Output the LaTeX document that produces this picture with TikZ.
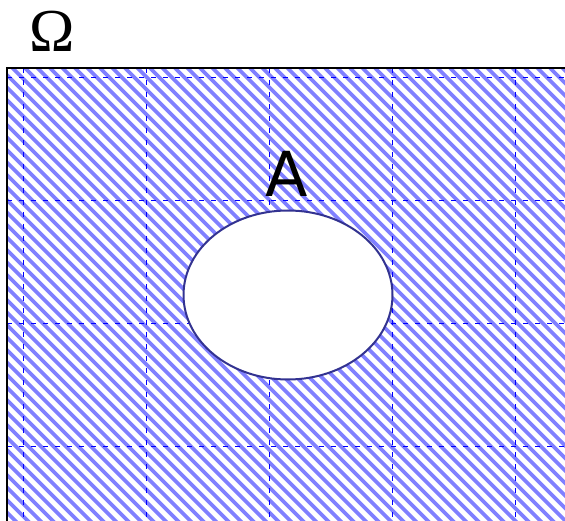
\documentclass[tikz,border=0pt]{standalone}
\usepackage{fontspec}
\newfontfamily\labelfont{DejaVu Sans}
\newfontfamily\omegafont{Liberation Serif}
\usetikzlibrary{shapes.geometric}
\definecolor{hatchblue}{RGB}{128,128,255}
\definecolor{rimblue}{RGB}{51,51,145}
\tikzset{
  hatch/.style={hatchblue, line width=3.6pt},
  gridline/.style={blue, line width=0.6pt, dash pattern=on 5pt off 7pt},
  setshape/.style={ellipse, draw=rimblue, line width=2pt, fill=white},
}
\begin{document}
\begin{tikzpicture}[x=1pt, y=-1pt]
\clip (0,0) rectangle (565,521);
% hatched universe
\begin{scope}
  \clip (7,68) rectangle (600,600);
  \foreach \c in {-600,-587.5,...,600}
    \draw[hatch] (\c,68) -- ++(620,620);
\end{scope}
% dashed grid
\foreach \x in {23,146,269,392,515}
  \draw[gridline] (\x,68) -- (\x,521);
\foreach \y in {77,200,323,446}
  \draw[gridline] (7,\y) -- (565,\y);
\draw[line width=2pt] (7,600) -- (7,68) -- (600,68);
% set A
\node[setshape, minimum width=209pt, minimum height=169pt] (setA) at (288,295) {};
\node[anchor=base, inner sep=0pt, font=\labelfont\fontsize{62}{64}\selectfont] (labelA) at (287,197) {A};
\node[anchor=base, inner sep=0pt, font=\omegafont\fontsize{61}{63}\selectfont] (omega) at (52,52) {Ω};
\end{tikzpicture}
\end{document}
